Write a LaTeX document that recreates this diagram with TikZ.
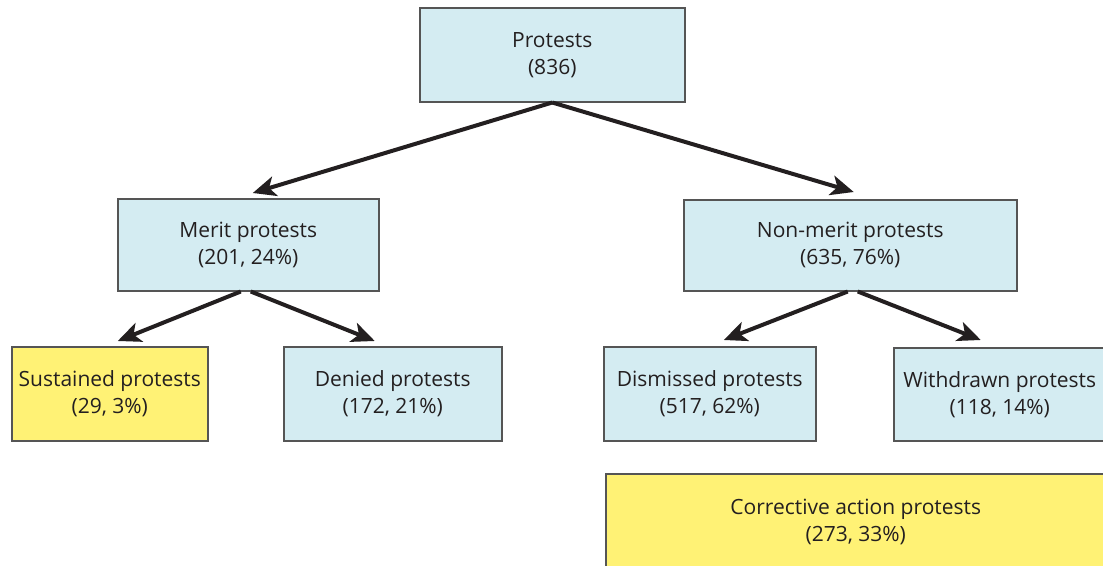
\documentclass[tikz,border=0pt]{standalone}
\usepackage{fontspec}
\setmainfont{Open Sans}
\usetikzlibrary{arrows.meta}
\definecolor{boxblue}{RGB}{212,236,242}
\definecolor{boxyellow}{RGB}{255,242,117}
\definecolor{boxline}{RGB}{85,85,85}
\definecolor{arrowcol}{RGB}{35,31,32}
\definecolor{textcol}{RGB}{35,31,32}
\tikzset{
  box/.style={draw=boxline, line width=1.5pt, anchor=north west, inner sep=0pt,
    align=center, text=textcol, font=\fontsize{21}{27}\selectfont},
  bluebox/.style={box, fill=boxblue},
  yellowbox/.style={box, fill=boxyellow},
  arr/.style={draw=arrowcol, line width=4pt, -{Stealth[length=23pt,width=20pt,inset=6pt]}}
}
\begin{document}
\begin{tikzpicture}[x=1pt,y=-1pt]
\useasboundingbox (0,0) rectangle (1103,565);
\begin{scope}
\clip (0,0) rectangle (1103,565);
\node[bluebox, minimum width=265pt, minimum height=94pt] (prot) at (419,7) {Protests\\(836)};
\node[bluebox, minimum width=261pt, minimum height=92pt] (merit) at (117,198) {Merit protests\\(201, 24\%)};
\node[bluebox, minimum width=333pt, minimum height=91pt] (nonmerit) at (683,199) {Non-merit protests\\(635, 76\%)};
\node[yellowbox, minimum width=196pt, minimum height=94pt] (sust) at (11,346) {Sustained protests\\(29, 3\%)};
\node[bluebox, minimum width=218pt, minimum height=94pt] (denied) at (283,346) {Denied protests\\(172, 21\%)};
\node[bluebox, minimum width=212pt, minimum height=94pt] (dism) at (603,346) {Dismissed protests\\(517, 62\%)};
\node[bluebox, minimum width=212pt, minimum height=93pt] (withd) at (893,347) {Withdrawn protests\\(118, 14\%)};
\node[yellowbox, minimum width=500pt, minimum height=96pt] (corr) at (605,473) {Corrective action protests\\(273, 33\%)};
\end{scope}
\draw[arr] (prot.south) -- ([xshift=4.5pt,yshift=5pt]merit.north);
\draw[arr] (prot.south) -- ([xshift=3.5pt,yshift=7pt]nonmerit.north);
\draw[arr] ([xshift=-7.5pt]merit.south) -- ([xshift=8pt,yshift=5pt]sust.north);
\draw[arr] ([xshift=2.5pt]merit.south) -- ([xshift=-18pt,yshift=5pt]denied.north);
\draw[arr] ([xshift=-2.5pt]nonmerit.south) -- ([xshift=14pt,yshift=6pt]dism.north);
\draw[arr] ([xshift=7.5pt]nonmerit.south) -- ([xshift=-19pt,yshift=7pt]withd.north);
\end{tikzpicture}
\end{document}
